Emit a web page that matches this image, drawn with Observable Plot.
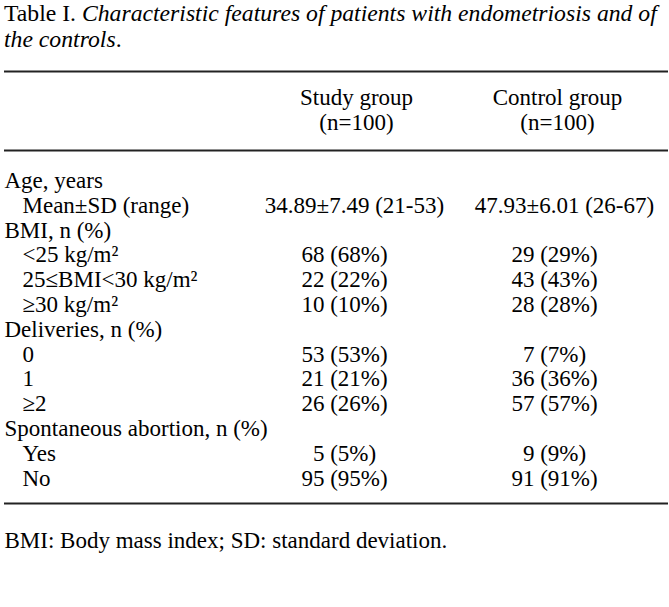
<!DOCTYPE html>
<html>
<head>
<meta charset="utf-8">
<script src="https://cdn.jsdelivr.net/npm/d3@7"></script>
<script src="https://cdn.jsdelivr.net/npm/@observablehq/plot@0.6"></script>
<style>
  html, body { margin: 0; padding: 0; background: #fff; }
  #title { font-family: "Liberation Serif", "Times New Roman", serif; font-size: 23.7px; line-height: 26px; color: #000; padding: 0 0 0 4px; height: 55px; box-sizing: border-box; white-space: nowrap; }
  #chart svg { display: block; }
</style>
</head>
<body>
<div id="title">Table I. <i>Characteristic features of patients with endometriosis and of<br>the controls</i>.</div>
<div id="chart"></div>
<script>
// ---- data ----
const categories = ["Age, years", "Mean±SD (range)", "BMI, n (%)", "<25 kg/m²", "25≤BMI<30 kg/m²", "≥30 kg/m²",
  "Deliveries, n (%)", "0", "1", "≥2", "Spontaneous abortion, n (%)", "Yes", "No"];
const isSubRow = [false, true, false, true, true, true, false, true, true, true, false, true, true];
const studyValues = ["", "34.89±7.49 (21-53)", "", "68 (68%)", "22 (22%)", "10 (10%)", "", "53 (53%)", "21 (21%)", "26 (26%)", "", "5 (5%)", "95 (95%)"];
const controlValues = ["", "47.93±6.01 (26-67)", "", "29 (29%)", "43 (43%)", "28 (28%)", "", "7 (7%)", "36 (36%)", "57 (57%)", "", "9 (9%)", "91 (91%)"];
const groupNames = ["Study group", "Control group"];
const groupSizes = ["(n=100)", "(n=100)"];
const footnote = ["BMI: Body mass index; SD: standard deviation."];

// ---- layout (positions in row units / px) ----
const W = 669, H = 552;
const font = "Liberation Serif";
const fs = 23;
const colX = {label: 4, sub: 22, study: 344, control: 554};
const headX = {study: 356, control: 557};
const ageX = {study: 354, control: 564};
const yHead1 = -3.34, yHead2 = -2.34, yTopRule = -4.39, yMidRule = -1.21, yBottomRule = 13.01, yFoot = 14.5;

const rows = categories.map((label, i) => ({
  row: i, label, sub: isSubRow[i], study: studyValues[i], control: controlValues[i]
}));
const header = groupNames.map((g, i) => ({col: i === 0 ? "study" : "control", name: g, n: groupSizes[i]}));

const common = {fontFamily: font, fontSize: fs, fill: "#000"};

const chart = Plot.plot({
  width: W,
  height: H,
  margin: 0,
  x: {domain: [0, W], range: [0, W], axis: null},
  y: {domain: [-5.034, 17.2], range: [0, H], axis: null},
  style: {fontFamily: font, fontSize: fs + "px", background: "#fff", color: "#000"},
  marks: [
    Plot.ruleY([yTopRule, yMidRule, yBottomRule], {x1: 4, x2: 668, stroke: "#222", strokeWidth: 2}),
    Plot.text(header, {x: d => headX[d.col], y: () => yHead1, text: "name", textAnchor: "middle", ...common}),
    Plot.text(header, {x: d => headX[d.col], y: () => yHead2, text: "n", textAnchor: "middle", ...common}),
    Plot.text(rows, {x: d => d.sub ? colX.sub : colX.label, y: "row", text: "label", textAnchor: "start", ...common}),
    Plot.text(rows.filter(d => d.study), {x: d => d.row === 1 ? ageX.study : colX.study, y: "row", text: "study", textAnchor: "middle", ...common}),
    Plot.text(rows.filter(d => d.control), {x: d => d.row === 1 ? ageX.control : colX.control, y: "row", text: "control", textAnchor: "middle", ...common}),
    Plot.text(footnote, {x: () => colX.label, y: () => yFoot, text: d => d, textAnchor: "start", ...common})
  ]
});
document.getElementById("chart").appendChild(chart);
</script>
</body>
</html>
